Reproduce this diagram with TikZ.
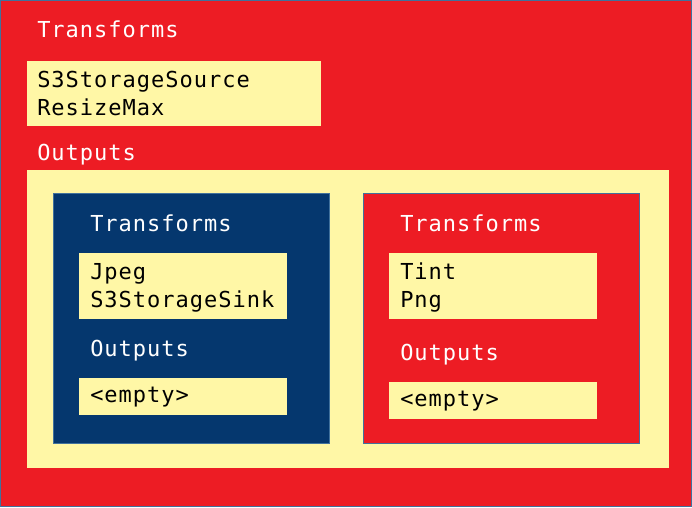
\documentclass[tikz,border=0pt]{standalone}
\usepackage{fontspec}
\newfontfamily\codefont{DejaVu Sans Mono}[LetterSpace=4.5]
\definecolor{pipered}{HTML}{ED1C24}
\definecolor{pipeyellow}{HTML}{FFF7A6}
\definecolor{pipenavy}{HTML}{05376E}
\definecolor{edgeblue}{HTML}{41719C}
\begin{document}
\begin{tikzpicture}[x=0.75pt,y=-0.75pt,
  panel/.style={anchor=north west,inner sep=0pt,outer sep=0pt,line width=0.75pt},
  redpanel/.style={panel,fill=pipered,draw=edgeblue},
  navypanel/.style={panel,fill=pipenavy,draw=edgeblue},
  listbox/.style={panel,fill=pipeyellow,draw=none},
  heading/.style={anchor=base west,inner sep=0pt,text=white,font=\codefont\fontsize{16.5pt}{21pt}\selectfont},
  entry/.style={anchor=base west,inner sep=0pt,text=black,font=\codefont\fontsize{16.5pt}{21pt}\selectfont}]
\useasboundingbox (0,0) rectangle (692,507);

% top-level pipeline
\node[redpanel,minimum width=691.25*0.75pt,minimum height=506.25*0.75pt] (root) at (0.4,0.4) {};
\node[heading] (rootT) at (37,37) {Transforms};
\node[listbox,minimum width=294*0.75pt,minimum height=65*0.75pt] (rootTbox) at (27,61) {};
\node[entry] (src) at (37,87) {S3StorageSource};
\node[entry] (resize) at (37,115) {ResizeMax};
\node[heading] (rootO) at (37,160) {Outputs};
\node[listbox,minimum width=642*0.75pt,minimum height=298*0.75pt] (rootObox) at (27,170) {};

% first branch
\node[navypanel,minimum width=276*0.75pt,minimum height=250*0.75pt] (jpegbr) at (53,193) {};
\node[heading] (jpegT) at (90,231) {Transforms};
\node[listbox,minimum width=208*0.75pt,minimum height=66*0.75pt] (jpegTbox) at (79,253) {};
\node[entry] (jpeg) at (90,279) {Jpeg};
\node[entry] (sink) at (90,307) {S3StorageSink};
\node[heading] (jpegO) at (90,356) {Outputs};
\node[listbox,minimum width=208*0.75pt,minimum height=37*0.75pt] (jpegObox) at (79,378) {};
\node[entry] (jpegE) at (90,402) {<empty>};

% second branch
\node[redpanel,minimum width=276*0.75pt,minimum height=250*0.75pt] (pngbr) at (363,193) {};
\node[heading] (pngT) at (400,231) {Transforms};
\node[listbox,minimum width=208*0.75pt,minimum height=66*0.75pt] (pngTbox) at (389,253) {};
\node[entry] (tint) at (400,279) {Tint};
\node[entry] (png) at (400,307) {Png};
\node[heading] (pngO) at (400,360) {Outputs};
\node[listbox,minimum width=208*0.75pt,minimum height=37*0.75pt] (pngObox) at (389,382) {};
\node[entry] (pngE) at (400,406) {<empty>};
\end{tikzpicture}
\end{document}
